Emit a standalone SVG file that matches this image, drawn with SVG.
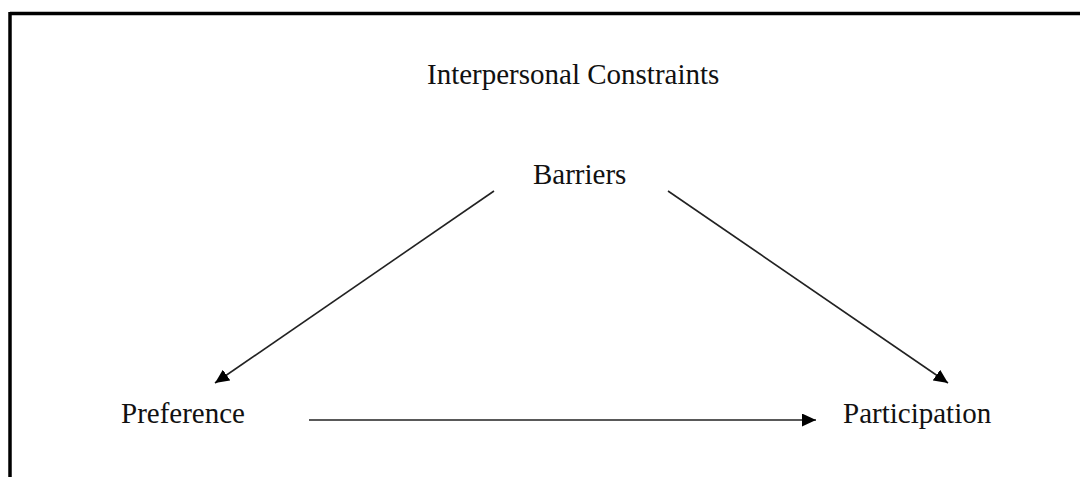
<svg xmlns="http://www.w3.org/2000/svg" width="1080" height="477" viewBox="0 0 1080 477">
<style>
.t{font-family:"Liberation Serif","Times New Roman",serif;font-size:29px;fill:#111;}
.c{stroke:#222;stroke-width:1.6;fill:none;}
</style>
<defs>
<marker id="ah" markerUnits="userSpaceOnUse" markerWidth="15" markerHeight="13" refX="14" refY="6.5" orient="auto">
<path d="M0,0 L14,6.5 L0,13 z" fill="#000"/>
</marker>
</defs>
<rect x="0" y="0" width="1080" height="477" fill="#fff"/>
<g id="frame">
<line x1="10" y1="13.5" x2="1080" y2="13.5" stroke="#000" stroke-width="3.5"/>
<line x1="10" y1="12" x2="10" y2="477" stroke="#000" stroke-width="3.5"/>
</g>
<g id="title"><text class="t" x="427" y="84">Interpersonal Constraints</text></g>
<g id="barriers"><text class="t" x="533" y="184">Barriers</text></g>
<g id="preference"><text class="t" x="121" y="423">Preference</text></g>
<g id="participation"><text class="t" x="843" y="423">Participation</text></g>
<g id="connectors">
<line class="c" x1="494" y1="191" x2="215" y2="383" marker-end="url(#ah)"/>
<line class="c" x1="668" y1="191" x2="948" y2="383" marker-end="url(#ah)"/>
<line class="c" x1="309" y1="420" x2="816" y2="420" marker-end="url(#ah)"/>
</g>
</svg>
